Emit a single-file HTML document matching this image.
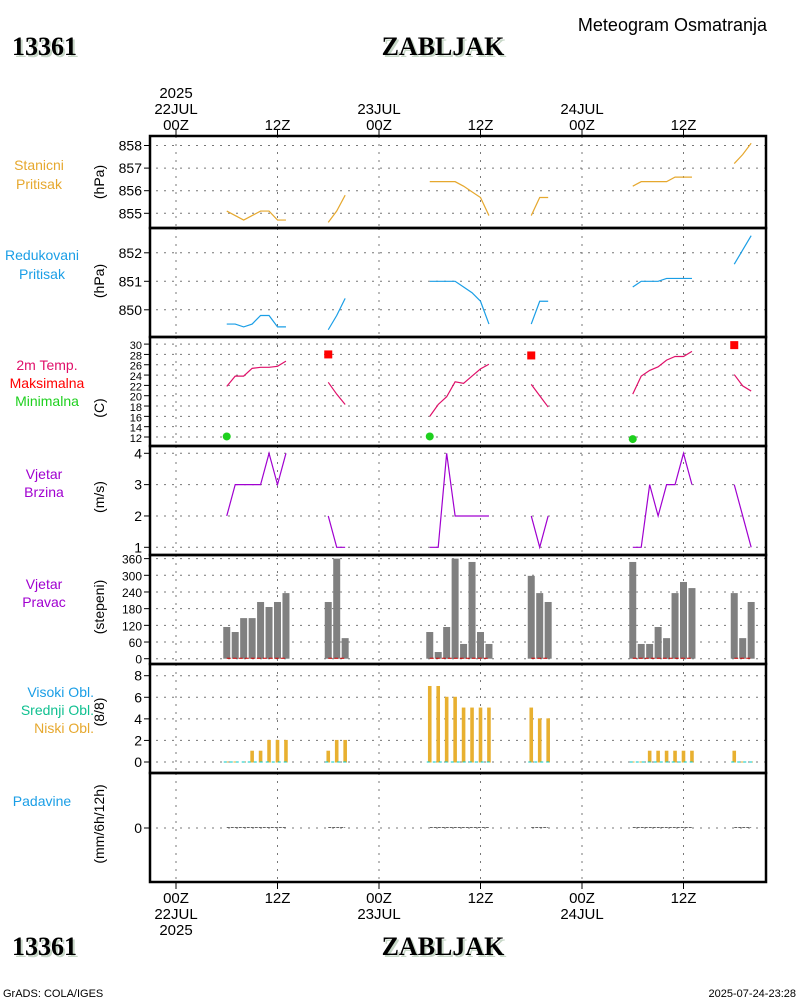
<!DOCTYPE html>
<html><head><meta charset="utf-8"><style>
html,body{margin:0;padding:0;background:#fff}
svg{display:block}
text{font-family:"Liberation Sans",sans-serif}
</style></head><body>
<svg id="c" width="800" height="1000" viewBox="0 0 800 1000" xmlns="http://www.w3.org/2000/svg"></svg>
<script>
// ---------- data (hours from 22JUL 00Z) ----------
const hourGroups = [[6,7,8,9,10,11,12,13],[18,19,20],[30,31,32,33,34,35,36,37],[42,43,44],[54,55,56,57,58,59,60,61],[66,67,68]];
const stationP = [[855.1,854.9,854.7,854.9,855.1,855.1,854.7,854.7],[854.6,855.1,855.8],[856.4,856.4,856.4,856.4,856.2,855.95,855.7,854.9],[854.9,855.7,855.7],[856.2,856.4,856.4,856.4,856.4,856.6,856.6,856.6],[857.2,857.6,858.1]];
const reducedP = [[849.5,849.5,849.4,849.5,849.8,849.8,849.4,849.4],[849.3,849.8,850.4],[851.0,851.0,851.0,851.0,850.8,850.6,850.3,849.5],[849.5,850.3,850.3],[850.8,851.0,851.0,851.0,851.1,851.1,851.1,851.1],[851.6,852.1,852.6]];
const temp2m = [[21.8,23.8,23.8,25.3,25.5,25.5,25.7,26.7],[22.6,20.3,18.3],[16.0,18.3,19.8,22.7,22.4,23.8,25.2,26.1],[22.2,20.0,17.8],[20.3,23.8,24.9,25.6,26.9,27.6,27.6,28.6],[24.1,21.9,20.9]];
const maxHours = [18,42,66];
const maxTemps = [28.0,27.8,29.8];
const minHours = [6,30,54];
const minTemps = [12.1,12.1,11.6];
const windSpd = [[2,3,3,3,3,4,3,4],[2,1,1],[1,1,4,2,2,2,2,2],[2,1,2],[1,1,3,2,3,3,4,3],[3,2,1]];
const windDir = [[114,96,146,146,204,186,204,236],[204,360,74],[96,24,114,360,53,348,96,53],[298,236,204],[348,53,53,114,74,236,276,254],[236,74,204]];
const lowCloud = [[0,0,0,1,1,2,2,2],[1,2,2],[7,7,6,6,5,5,5,5],[5,4,4],[0,0,1,1,1,1,1,1],[1,0,0]];
const precip = [[0,0,0,0,0,0,0,0],[0,0,0],[0,0,0,0,0,0,0,0],[0,0,0],[0,0,0,0,0,0,0,0],[0,0,0]];
const xTickHours = [0,12,24,36,48,60];
const xTickLabels = ["00Z","12Z","00Z","12Z","00Z","12Z"];
const dateLabels = ["22JUL","23JUL","24JUL"];
const pTicks1 = [855,856,857,858];
const pTicks2 = [850,851,852];
const tTicks = [12,14,16,18,20,22,24,26,28,30];
const wTicks = [1,2,3,4];
const dTicks = [0,60,120,180,240,300,360];
const cTicks = [0,2,4,6,8];
const rTicks = [0];

// ---------- helpers ----------
const svg = document.getElementById('c');
const NS = 'http://www.w3.org/2000/svg';
function el(tag, attrs, parent){const e=document.createElementNS(NS,tag);for(const k in attrs)e.setAttribute(k,attrs[k]);(parent||svg).appendChild(e);return e;}
function txt(s, attrs, parent){const e=el('text',attrs,parent);e.textContent=s;return e;}
const X0=150, X1=766;
const xs = h => 176 + h*101.5/12;
const lin = (v0,y0,v1,y1) => v => y0 + (v-v0)*(y1-y0)/(v1-v0);
const panels = [[136,228],[228,337],[337,446],[446,555],[555,664],[664,773],[773,882]];
const yP1 = lin(855,213.3,858,145.5);
const yP2 = lin(851,281.3,852,252.8);
const yT = lin(12,437,30,344.1);
const yW = lin(1,547.3,4,453.3);
const yD = lin(0,658.7,300,575.3);
const yC = lin(0,762,8,675.7);
const yR = lin(0,828,1,800);

// grids
const grid = el('g',{});


panels.forEach(([a,b])=>{
  xTickHours.forEach(h=>el('line',{x1:xs(h),x2:xs(h),y1:a,y2:b,stroke:'#777','stroke-width':1,'stroke-dasharray':'2,6'},grid));
});
function hgrid(vals,fy,lab,fs){
  const g=el('g',{});
  
  
  vals.forEach(v=>{const y=fy(v);
    el('line',{x1:X0+6,x2:X1,y1:y,y2:y,stroke:'#777','stroke-width':1,'stroke-dasharray':'2,6'},g);
    el('line',{x1:X0-6,x2:X0,y1:y,y2:y,stroke:'#000','stroke-width':1},g);
    if(lab) txt(String(v),{x:X0-8,y:y+5,'text-anchor':'end','font-size':fs||14,fill:'#000'},g);
  });
}
hgrid(pTicks1,yP1,true);
hgrid(pTicks2,yP2,true);
hgrid(tTicks,yT,true,11);
hgrid(wTicks,yW,true);
hgrid(dTicks,yD,true,12);
hgrid(cTicks,yC,true);
hgrid(rTicks,yR,true);

// line series
function series(data,fy,color,name){
  const g=el('g',{});
  
  
  data.forEach((seg,i)=>{
    const pts=seg.map((v,j)=>xs(hourGroups[i][j])+','+fy(v)).join(' ');
    el('polyline',{points:pts,fill:'none',stroke:color,'stroke-width':1.2},g);
  });
}
series(stationP,yP1,'#e6a82e','station-pressure-line');
series(reducedP,yP2,'#1a9ee6','reduced-pressure-line');
series(temp2m,yT,'#e0106a','temperature-line');
series(windSpd,yW,'#a000d0','wind-speed-line');

// max / min temp markers
maxHours.forEach((h,i)=>{
  const r=el('rect',{x:xs(h)-4,y:yT(maxTemps[i])-4,width:8,height:8,fill:'#f00'});
  
  
});
minHours.forEach((h,i)=>{
  const c=el('circle',{cx:xs(h),cy:yT(minTemps[i]),r:4,fill:'#1ed01e'});
  
  
});

// wind direction bars
const gd=el('g',{});


windDir.forEach((seg,i)=>{
  seg.forEach((v,j)=>{const x=xs(hourGroups[i][j]);
    const b=el('rect',{x:x-3.5,y:yD(v),width:7,height:yD(0)-yD(v),fill:'#808080'},gd);
    
    
  });
  const hs=hourGroups[i];
  el('line',{x1:xs(hs[0]),x2:xs(hs[hs.length-1]),y1:yD(0)-0.5,y2:yD(0)-0.5,stroke:'#d00000','stroke-width':1,'stroke-dasharray':'4,2'},gd);
});

// clouds
const gc=el('g',{});


lowCloud.forEach((seg,i)=>{
  const hs=hourGroups[i];
  seg.forEach((v,j)=>{const x=xs(hs[j]);
    const b=el('rect',{x:x-1.8,y:yC(v)-0.5,width:3.6,height:yC(0)-yC(v)+1,fill:'#e8b030'},gc);
    
    
  });
  el('line',{x1:xs(hs[0])-3,x2:xs(hs[hs.length-1])+3,y1:yC(0),y2:yC(0),stroke:'#00c8c8','stroke-width':1,'stroke-dasharray':'3,3'},gc);
});

// precip
const gr=el('g',{});


precip.forEach((seg,i)=>{
  const hs=hourGroups[i];
  el('polyline',{points:seg.map((v,j)=>xs(hs[j])+','+(yR(v)-0.5)).join(' '),fill:'none',stroke:'#666','stroke-width':1,'stroke-dasharray':'3,1'},gr);
});

// frames
panels.forEach(([a,b])=>{
  const r=el('rect',{x:X0,y:a,width:X1-X0,height:b-a,fill:'none',stroke:'#000','stroke-width':2.5});
  
  
});
// x ticks
xTickHours.forEach((h,i)=>{
  el('line',{x1:xs(h),x2:xs(h),y1:129,y2:136,stroke:'#000'});
  el('line',{x1:xs(h),x2:xs(h),y1:882,y2:889,stroke:'#000'});
  const t=txt(xTickLabels[i],{x:xs(h),y:130,'text-anchor':'middle','font-size':15});
  
  
  const b=txt(xTickLabels[i],{x:xs(h),y:903,'text-anchor':'middle','font-size':15});
  
  
});
dateLabels.forEach((d,i)=>{
  const h=i*24;
  txt(d,{x:xs(h),y:114,'text-anchor':'middle','font-size':15});
  txt(d,{x:xs(h),y:919,'text-anchor':'middle','font-size':15});
});
txt('2025',{x:xs(0),y:98,'text-anchor':'middle','font-size':15});
txt('2025',{x:xs(0),y:935,'text-anchor':'middle','font-size':15});

// left labels
function lab(s,x,y,col,anchor){const t=txt(s,{x:x,y:y,'text-anchor':anchor||'middle','font-size':14,fill:col});}
function ylab(s,y){const t=txt(s,{x:0,y:0,'text-anchor':'middle','font-size':14,transform:'translate(104,'+y+') rotate(-90)'});}
lab('Stanicni',39,170,'#e6a82e');lab('Pritisak',39,189,'#e6a82e');ylab('(hPa)',182);
lab('Redukovani',42,260,'#1a9ee6');lab('Pritisak',42,279,'#1a9ee6');ylab('(hPa)',281);
lab('2m Temp.',47,370,'#e0106a');lab('Maksimalna',47,388,'#f00');lab('Minimalna',47,406,'#1ed01e');ylab('(C)',408);
lab('Vjetar',44,479,'#a000d0');lab('Brzina',44,497,'#a000d0');ylab('(m/s)',497);
lab('Vjetar',44,589,'#a000d0');lab('Pravac',44,607,'#a000d0');ylab('(stepeni)',607);
lab('Visoki Obl.',94,697,'#1a9ee6','end');lab('Srednji Obl.',94,715,'#10c090','end');lab('Niski Obl.',94,733,'#e6a82e','end');ylab('(8/8)',712);
lab('Padavine',42,806,'#1a9ee6');ylab('(mm/6h/12h)',824);

// titles
function title(s,x,y,anchor,name){
  el('text',{x:x+2,y:y+2,'text-anchor':anchor,'font-size':26,'font-weight':'bold',fill:'#c8d8c8',style:'font-family:"Liberation Serif",serif'}).textContent=s;
  const t=txt(s,{x:x,y:y,'text-anchor':anchor,'font-size':26,'font-weight':'bold',fill:'#000',style:'font-family:"Liberation Serif",serif'});
  
}
title('13361',12,55,'start','station-id');
title('ZABLJAK',443,55,'middle','station-name');
title('13361',12,955,'start','station-id-bottom');
title('ZABLJAK',443,955,'middle','station-name-bottom');
const mt=txt('Meteogram Osmatranja',{x:767,y:31,'text-anchor':'end','font-size':18});

const f1=txt('GrADS: COLA/IGES',{x:3,y:997,'font-size':11});

const f2=txt('2025-07-24-23:28',{x:796,y:997,'text-anchor':'end','font-size':11});

</script>
</body></html>
